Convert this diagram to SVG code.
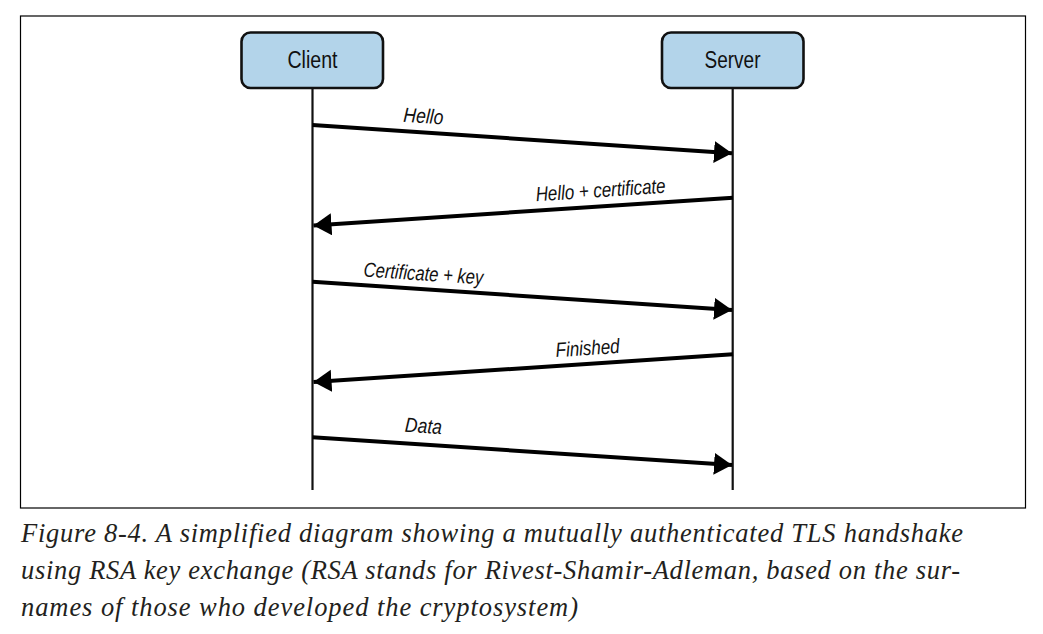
<svg xmlns="http://www.w3.org/2000/svg" width="1043" height="634" viewBox="0 0 1043 634">
<style>
  .frame { fill: #ffffff; stroke: #000000; stroke-width: 1.2; }
  .box { fill: #b3d4ea; stroke: #111111; stroke-width: 2.6; }
  .boxtxt { font-family: "Liberation Sans", Arial, sans-serif; font-size: 23.5px; fill: #111111; text-anchor: middle; }
  .life { stroke: #111111; stroke-width: 2.2; fill: none; }
  .msg { stroke: #000000; stroke-width: 4; fill: none; }
  .lbl { font-family: "Liberation Sans", Arial, sans-serif; font-style: italic; font-size: 20.5px; fill: #111111; text-anchor: middle; }
  .cap { font-family: "Liberation Serif", "Times New Roman", serif; font-style: italic; font-weight: normal; font-size: 26.5px; fill: #231f20; }
</style>
<defs>
  <marker id="ah" markerUnits="userSpaceOnUse" markerWidth="20" markerHeight="24" refX="18" refY="11" orient="auto">
    <path d="M0,0 L18,11 L0,22 z" fill="#000000"/>
  </marker>
</defs>
<rect class="frame" x="20.5" y="16" width="1005" height="492"/>

<g id="client">
  <rect class="box" x="241.5" y="32.5" width="141.5" height="55.5" rx="9" ry="9"/>
  <text class="boxtxt" x="312.5" y="68.3" textLength="50" lengthAdjust="spacingAndGlyphs">Client</text>
</g>
<g id="server">
  <rect class="box" x="662" y="32.5" width="141.5" height="55.5" rx="9" ry="9"/>
  <text class="boxtxt" x="732.5" y="68.3" textLength="56" lengthAdjust="spacingAndGlyphs">Server</text>
</g>

<g id="connectors">
  <line class="life" x1="312.5" y1="88" x2="312.5" y2="490"/>
  <line class="life" x1="732.7" y1="88" x2="732.7" y2="490"/>

  <line class="msg" x1="312.5" y1="125" x2="732" y2="153.3" marker-end="url(#ah)"/>
  <line class="msg" x1="733" y1="197.7" x2="313.5" y2="225.5" marker-end="url(#ah)"/>
  <line class="msg" x1="312.5" y1="281.7" x2="732" y2="310" marker-end="url(#ah)"/>
  <line class="msg" x1="733" y1="354.3" x2="313.5" y2="382" marker-end="url(#ah)"/>
  <line class="msg" x1="312.5" y1="437.3" x2="732" y2="465" marker-end="url(#ah)"/>

  <text class="lbl" x="423" y="123" transform="rotate(3.8 423 123)" textLength="40" lengthAdjust="spacingAndGlyphs">Hello</text>
  <text class="lbl" x="601" y="197" transform="rotate(-3.8 601 197)" textLength="130" lengthAdjust="spacingAndGlyphs">Hello + certificate</text>
  <text class="lbl" x="423" y="280.5" transform="rotate(3.8 423 280.5)" textLength="120" lengthAdjust="spacingAndGlyphs">Certificate + key</text>
  <text class="lbl" x="588" y="355" transform="rotate(-3.8 588 355)" textLength="64" lengthAdjust="spacingAndGlyphs">Finished</text>
  <text class="lbl" x="423" y="433" transform="rotate(3.8 423 433)" textLength="37" lengthAdjust="spacingAndGlyphs">Data</text>
</g>

<g id="caption">
  <text class="cap" x="21" y="541.5" textLength="942" lengthAdjust="spacing">Figure 8-4. A simplified diagram showing a mutually authenticated TLS handshake</text>
  <text class="cap" x="21" y="578.5" textLength="939" lengthAdjust="spacing">using RSA key exchange (RSA stands for Rivest-Shamir-Adleman, based on the sur-</text>
  <text class="cap" x="21" y="615.5" textLength="557" lengthAdjust="spacing">names of those who developed the cryptosystem)</text>
</g>
</svg>
